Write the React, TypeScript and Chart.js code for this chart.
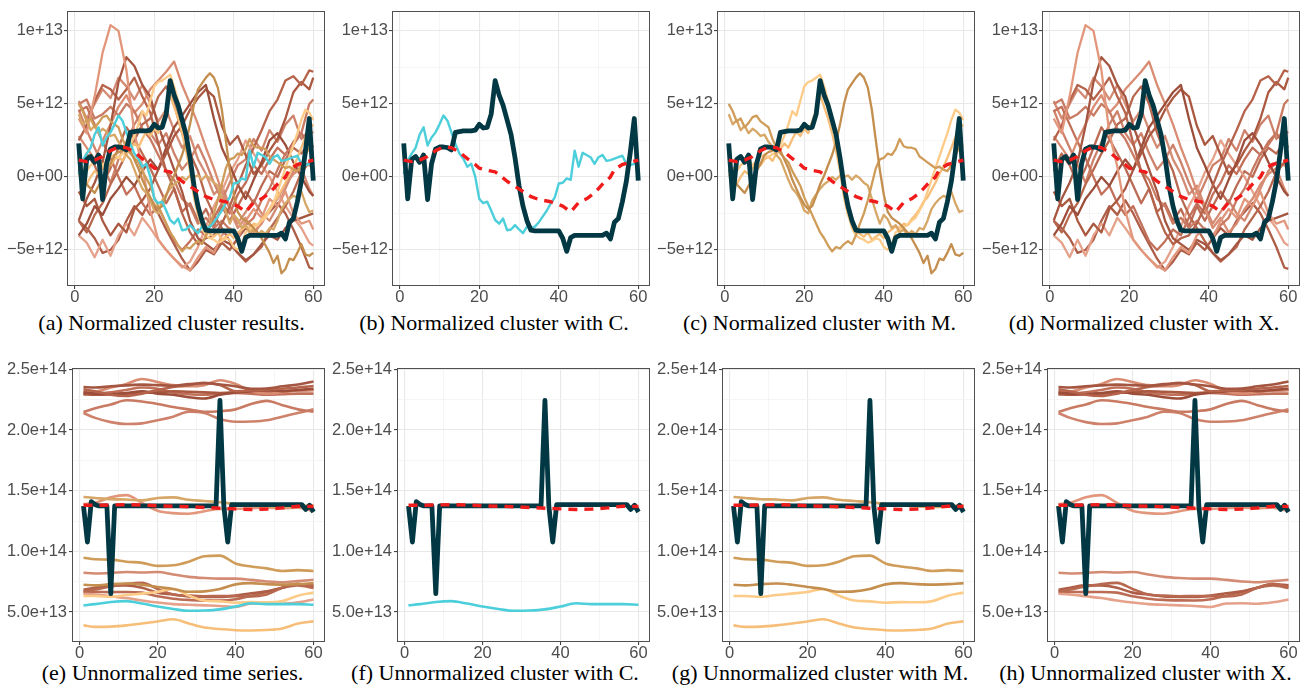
import React, { useEffect, useRef } from 'react';
import { Chart, registerables } from 'chart.js';
Chart.register(...registerables);

// ---------- axes / ticks ----------
const X_MIN = -1.95;
const X_MAX = 62.95;
const X_TICKS = [0, 20, 40, 60];
const X_LABELS = ['0', '20', '40', '60'];
const X_MINOR = [10, 30, 50];

const TOP_Y_MIN = -7.47; // units of 1e12
const TOP_Y_MAX = 11.37;
const TOP_Y_TICKS = [-5, 0, 5, 10];
const TOP_Y_LABELS = ['\u22125e+12', '0e+00', '5e+12', '1e+13'];
const TOP_Y_MINOR = [-2.5, 2.5, 7.5];

const BOT_Y_MIN = 0.253; // units of 1e14
const BOT_Y_MAX = 2.511;
const BOT_Y_TICKS = [0.5, 1.0, 1.5, 2.0, 2.5];
const BOT_Y_LABELS = ['5.0e+13', '1.0e+14', '1.5e+14', '2.0e+14', '2.5e+14'];
const BOT_Y_MINOR = [0.75, 1.25, 1.75, 2.25];

const TOP_CAPTIONS = [
  '(a) Normalized cluster results.',
  '(b) Normalized cluster with C.',
  '(c) Normalized cluster with M.',
  '(d) Normalized cluster with X.',
];
const BOT_CAPTIONS = [
  '(e) Unnormalized time series.',
  '(f) Unnormalized cluster with C.',
  '(g) Unnormalized cluster with M.',
  '(h) Unnormalized cluster with X.',
];

// ---------- x positions ----------
const FX = Array.from({ length: 60 }, (_, i) => i + 1);
const NX = [1, 3, 5, 7, 9, 11, 13, 15, 17, 19, 21, 23, 25, 27, 29, 31, 33, 35, 37, 39, 41, 43, 45, 47, 49, 51, 53, 55, 57, 59, 60];
const MEAN_X = [1, 3, 5, 7, 9, 11, 13, 15, 17, 19, 20, 22, 24, 25, 27, 29, 31, 33, 35, 37, 38, 39, 41, 43, 45, 47, 49, 50, 51, 53, 54, 56, 58, 60];
const BX = [1, 4, 8, 12, 16, 20, 24, 28, 32, 36, 40, 44, 48, 52, 56, 60];

// ---------- normalized (x 1e12) ----------
const DARK_TOP = [2.3, -1.5, 1.2, 1.4, 1.0, 1.5, -1.55, 0.9, 1.9, 2.05,
  2.05, 2.0, 1.85, 3.05, 3.1, 3.15, 3.15, 3.15, 3.2, 3.6,
  3.35, 3.4, 4.3, 6.6, 5.6, 4.9, 3.9, 2.9, 1.3, -0.6,
  -2.0, -3.0, -3.65, -3.7, -3.7, -3.7, -3.7, -3.7, -3.7, -3.7,
  -4.2, -5.1, -4.15, -4.0, -4.0, -4.0, -4.0, -4.0, -4.0, -4.0,
  -4.0, -3.85, -4.25, -3.1, -2.85, -1.7, -0.3, 1.7, 4.0, -0.25];
const MEAN_TOP = [1.15, 1.05, 1.15, 1.4, 1.8, 2.05, 2.0, 1.7, 1.25, 0.85,
  0.6, 0.45, 0.35, 0.15, -0.3, -0.65, -1.0, -1.35, -1.55, -1.65,
  -1.7, -1.8, -2.0, -2.4, -1.75, -1.5, -1.1, -0.8, -0.5, 0.0,
  0.5, 0.85, 1.0, 1.15];
const CYAN_TOP = [0.2, 1.1, 1.6, 2.0, 2.9, 3.4, 2.15, 2.7, 3.05, 3.6,
  4.2, 3.85, 3.05, 2.25, 1.6, 1.25, 0.7, 0.9, 0.0, -1.5,
  -1.8, -1.7, -2.3, -2.95, -3.2, -2.85, -3.65, -3.6, -3.3, -3.6,
  -3.85, -3.4, -3.5, -3.4, -3.1, -2.7, -2.3, -1.8, -1.4, -0.45,
  -0.4, -0.1, -0.2, 1.8, 0.7, 1.65, 1.5, 1.35, 0.9, 1.35,
  1.5, 1.1, 1.15, 1.25, 1.35, 1.45, 0.9, 0.8, 0.9, 1.0];

const M1_TOP = [0.5, -0.2, -0.5, -0.8, -1.1, -0.6, -0.2, 0.4, 0.9, 1.5,
  1.7, 1.8, 2.0, 1.8, 1.2, 0.6, -0.2, -0.8, -1.4, -1.9,
  -2.2, -2.0, -1.3, -0.5, 0.1, 0.8, 1.5, 2.4, 3.6, 5.0,
  6.0, 6.4, 6.8, 7.1, 6.8, 6.1, 4.6, 2.5, 0.5, -1.2,
  -2.4, -2.8, -3.0, -3.2, -3.5, -3.8, -4.2, -4.7, -5.2, -5.9,
  -5.4, -6.6, -6.3, -5.6, -5.7, -5.2, -4.6, -5.3, -5.4, -5.2];
const M2_TOP = [5.0, 4.5, 3.8, 4.0, 3.4, 3.7, 4.1, 4.2, 3.8, 3.6,
  3.4, 2.6, 2.0, 1.6, 1.3, 1.0, 0.4, -0.1, -0.6, -1.4,
  -2.0, -2.6, -3.2, -3.8, -4.2, -4.7, -5.1, -4.8, -4.9, -4.6,
  -4.4, -4.6, -4.0, -3.2, -2.5, -1.6, -0.5, 0.6, 1.2, 1.3,
  1.6, 1.5, 1.9, 2.6, 2.1, 2.0, 2.0, 1.9, 1.4, 1.2,
  1.0, 0.8, 0.6, 0.7, 0.5, 0.4, 0.8, 1.5, 2.0, 2.2];
const M3_TOP = [4.3, 3.6, 3.9, 3.2, 3.5, 3.0, 3.3, 3.1, 2.8, 2.9,
  2.4, 2.1, 1.5, 1.2, 0.5, -0.2, -0.8, -1.1, -1.6, -2.3,
  -2.5, -1.6, -1.2, -0.8, -0.5, -0.3, 0.0, -0.2, 0.1, 0.0,
  0.1, -0.2, 0.1, -0.1, -0.4, -0.6, -1.5, -2.4, -3.2, -2.6,
  -2.9, -3.5, -3.3, -3.8, -3.6, -4.0, -3.7, -3.9, -3.5, -3.6,
  -3.0, -2.2, -1.8, -1.5, -1.3, -1.4, -1.0, -1.8, -2.4, -2.3];
const M4_TOP = [0.9, 0.6, 0.4, 0.8, 1.0, 1.2, 0.8, 1.1, 1.4, 1.5,
  1.3, 1.6, 1.5, 2.2, 2.8, 3.6, 4.5, 4.2, 5.2, 6.2,
  6.5, 6.6, 6.8, 7.0, 6.2, 5.2, 4.0, 2.6, 1.0, -1.0,
  -2.5, -3.5, -4.0, -4.2, -4.3, -4.5, -4.4, -4.2, -4.3, -4.8,
  -5.0, -4.6, -3.8, -3.6, -3.4, -3.3, -3.0, -2.8, -2.3, -1.8,
  -1.0, -0.2, 0.6, 1.4, 2.2, 3.0, 3.9, 4.6, 4.4, 3.9];
const M5_TOP = [0.2, -0.3, -0.5, 0.0, 0.4, 0.2, 0.6, 1.0, 0.8, 1.2,
  1.4, 1.1, 1.6, 1.9, 2.3, 2.0, 2.6, 3.1, 2.8, 3.3,
  3.0, 3.8, 4.6, 5.6, 4.8, 4.0, 3.0, 1.8, 0.4, -1.4,
  -2.6, -3.3, -3.7, -3.9, -4.1, -3.8, -4.3, -4.1, -3.9, -4.2,
  -3.8, -3.6, -3.4, -3.5, -3.2, -3.3, -2.9, -2.6, -2.2, -1.7,
  -1.4, -0.9, -0.4, 0.2, 0.7, 1.3, 2.0, 2.7, 3.3, 3.6];
const M_TOP = [M1_TOP, M2_TOP, M3_TOP, M4_TOP, M5_TOP];

const X1_TOP = [4.0, 3.0, 5.5, 8.5, 10.4, 10.0, 7.3, 3.0, 0.7, -2.3, -4.3, -5.0, -5.6, -6.1, -6.4, -5.5, -4.8, -5.2, -4.0, -3.5, -4.2, -3.0, -2.2, -2.8, -1.5, -2.0, -1.0, -2.5, -3.2, -3.0, -3.6];
const X2_TOP = [-3.0, -1.5, -0.4, 1.0, 3.5, 6.5, 8.2, 7.6, 6.3, 5.5, 3.5, 2.0, 0.5, -1.0, -3.0, -4.2, -4.6, -5.0, -4.3, -4.6, -5.2, -5.7, -5.3, -4.6, -4.0, -4.3, -3.5, -3.0, -2.8, -2.6, -2.5];
const X3_TOP = [2.5, 3.5, 5.2, 6.3, 6.0, 5.3, 6.0, 6.8, 5.5, 4.4, 2.3, 0.4, -0.8, -2.5, -3.8, -4.6, -4.2, -4.0, -3.2, -2.0, -0.6, 0.8, 2.0, 3.2, 4.5, 5.3, 6.6, 6.9, 6.3, 7.3, 7.2];
const X4_TOP = [5.0, 5.3, 4.0, 4.3, 4.8, 4.2, 5.0, 4.5, 3.3, 2.6, 1.5, 0.4, -0.2, -1.5, -2.0, -3.2, -2.8, -3.5, -3.0, -3.6, -4.0, -3.3, -2.8, -1.6, -0.8, 0.5, 1.6, 2.2, 3.0, 5.0, 5.3];
const X5_TOP = [-4.0, -3.2, -2.0, -2.6, -1.5, -0.8, 0.0, -0.6, 0.4, 1.2, 0.5, 2.0, 3.4, 4.2, 5.0, 5.8, 6.3, 4.0, 2.0, 0.8, -0.5, -1.5, -0.2, 1.0, 2.5, 3.0, 2.2, 1.0, 0.0, -1.0, -1.3];
const X6_TOP = [2.8, 2.0, 1.2, 2.5, 3.6, 4.8, 5.6, 4.4, 5.0, 6.0, 6.6, 7.2, 7.9, 6.3, 5.0, 3.6, 2.0, 0.6, -1.0, -2.2, -3.5, -2.8, -3.8, -3.2, -2.2, -1.5, -0.5, 0.2, 0.6, -0.8, -1.3];
const X7_TOP = [-1.0, -2.0, -1.5, -3.0, -4.0, -3.2, -3.8, -2.2, -1.6, -0.8, 0.5, 1.6, 2.8, 3.5, 4.6, 5.4, 6.0, 5.5, 3.5, 2.2, 2.8, 1.5, 0.2, 0.8, 1.8, 2.6, 4.0, 5.8, 6.5, 6.0, 6.8];
const X8_TOP = [4.5, 4.8, 3.6, 2.4, 1.3, 0.0, -1.2, -0.6, -1.8, -2.6, -2.0, -3.2, -4.4, -5.0, -4.4, -3.6, -4.0, -2.8, -1.8, -2.5, -1.2, -0.4, 0.8, 0.2, 1.2, 2.0, 1.5, 2.4, 3.0, 2.2, 2.0];
const X9_TOP = [-3.0, -3.8, -2.6, -1.8, -0.5, 0.5, 1.6, 2.5, 3.6, 4.0, 5.5, 6.2, 5.0, 3.0, 1.6, 0.4, -1.4, -2.6, -3.5, -4.4, -5.2, -5.8, -5.3, -4.8, -3.6, -2.8, -2.0, -1.0, 0.3, 1.0, 0.8];
const X10_TOP = [-4.0, -4.5, -5.5, -4.3, -5.4, -4.0, -3.2, -4.0, -2.8, -3.5, -4.3, -5.0, -5.6, -6.2, -5.8, -4.8, -3.4, -2.0, -1.0, 0.3, 1.2, 2.5, 1.6, 0.8, 0.0, -1.0, -2.0, -2.8, -3.5, -4.5, -4.7];
const X11_TOP = [-3.0, -3.5, -4.2, -5.2, -5.0, -4.3, -3.0, -2.0, -2.6, -1.6, -2.5, -3.6, -4.6, -5.6, -6.4, -5.8, -5.0, -5.3, -4.5, -5.0, -4.2, -3.5, -4.0, -3.0, -2.4, -1.8, -2.5, -3.6, -4.8, -6.2, -6.3];
const X12_TOP = [4.6, 3.2, 2.0, 0.8, -0.4, 1.2, 2.4, 3.6, 4.5, 3.0, 2.2, 3.0, 1.6, 0.5, 1.2, 2.2, 1.0, -0.4, -1.6, -0.4, 0.8, 1.2, 2.6, 1.8, 3.2, 2.4, 3.6, 4.2, 2.6, 3.2, 3.0];
const X13_TOP = [0.4, 1.6, 0.8, -0.5, 0.6, 2.0, 3.4, 2.6, 1.6, 0.6, -0.6, -1.8, -0.8, -2.4, -1.8, -3.0, -2.2, -3.4, -2.0, -3.0, -2.0, -1.0, -1.8, -0.6, 0.4, 0.0, 1.2, 2.0, 1.6, 2.4, 2.0];
const X14_TOP = [5.2, 4.0, 5.0, 6.0, 5.4, 6.8, 6.2, 5.3, 6.3, 5.0, 3.8, 4.6, 3.2, 2.0, 2.8, 1.2, 0.2, -1.2, -0.6, -2.0, -3.2, -2.4, -1.6, -2.5, -3.0, -2.0, -0.8, 0.4, 1.0, 0.8, 0.6];
const X_TOP = [X1_TOP, X2_TOP, X3_TOP, X4_TOP, X5_TOP, X6_TOP, X7_TOP, X8_TOP, X9_TOP, X10_TOP, X11_TOP, X12_TOP, X13_TOP, X14_TOP];

// ---------- unnormalized (x 1e14) ----------
const DARK_BOT = [1.374, 1.077, 1.41, 1.385, 1.374, 1.374, 1.374, 0.651, 1.374, 1.374,
  1.374, 1.374, 1.374, 1.374, 1.374, 1.374, 1.374, 1.374, 1.374, 1.374,
  1.374, 1.374, 1.374, 1.374, 1.374, 1.374, 1.374, 1.374, 1.374, 1.374,
  1.374, 1.374, 1.374, 1.374, 1.374, 2.245, 1.374, 1.077, 1.385, 1.385,
  1.385, 1.385, 1.385, 1.385, 1.385, 1.385, 1.385, 1.385, 1.385, 1.385,
  1.385, 1.385, 1.385, 1.385, 1.385, 1.385, 1.385, 1.346, 1.38, 1.324];
const MEAN_BOT = [1.38, 1.38, 1.382, 1.385, 1.382, 1.375, 1.372, 1.368, 1.362, 1.355, 1.35, 1.345, 1.348, 1.358, 1.372, 1.37];
const CYAN_BOT = [0.555, 0.565, 0.583, 0.59, 0.57, 0.545, 0.525, 0.51, 0.512, 0.522, 0.545, 0.572, 0.565, 0.565, 0.565, 0.56];

const M1_BOT = [0.725, 0.72, 0.73, 0.735, 0.725, 0.706, 0.69, 0.667, 0.67, 0.69, 0.728, 0.738, 0.73, 0.726, 0.73, 0.738];
const M2_BOT = [0.948, 0.935, 0.932, 0.915, 0.905, 0.88, 0.885, 0.915, 0.96, 0.965, 0.9, 0.875, 0.86, 0.838, 0.845, 0.838];
const M3_BOT = [1.448, 1.44, 1.43, 1.427, 1.42, 1.44, 1.445, 1.425, 1.415, 1.405, 1.39, 1.38, 1.37, 1.365, 1.37, 1.38];
const M4_BOT = [0.632, 0.632, 0.625, 0.64, 0.652, 0.665, 0.69, 0.635, 0.595, 0.588, 0.577, 0.582, 0.58, 0.59, 0.635, 0.66];
const M5_BOT = [0.39, 0.378, 0.38, 0.39, 0.405, 0.422, 0.44, 0.405, 0.372, 0.36, 0.35, 0.348, 0.352, 0.365, 0.405, 0.423];
const M_BOT = [M1_BOT, M2_BOT, M3_BOT, M4_BOT, M5_BOT];

const X1_BOT = [1.39, 1.40, 1.445, 1.463, 1.40, 1.335, 1.315, 1.31, 1.33, 1.35, 1.35, 1.355, 1.36, 1.355, 1.36, 1.33];
const X2_BOT = [2.354, 2.35, 2.36, 2.368, 2.374, 2.37, 2.365, 2.378, 2.385, 2.375, 2.36, 2.34, 2.342, 2.36, 2.375, 2.40];
const X3_BOT = [2.335, 2.32, 2.29, 2.28, 2.30, 2.33, 2.355, 2.37, 2.39, 2.37, 2.32, 2.325, 2.335, 2.34, 2.35, 2.363];
const X4_BOT = [2.148, 2.18, 2.21, 2.245, 2.235, 2.215, 2.19, 2.17, 2.15, 2.155, 2.17, 2.215, 2.24, 2.205, 2.17, 2.15];
const X5_BOT = [2.31, 2.30, 2.295, 2.305, 2.32, 2.30, 2.29, 2.27, 2.26, 2.29, 2.31, 2.32, 2.335, 2.32, 2.33, 2.34];
const X6_BOT = [2.31, 2.315, 2.35, 2.38, 2.42, 2.395, 2.37, 2.36, 2.37, 2.41, 2.38, 2.32, 2.30, 2.31, 2.325, 2.33];
const X7_BOT = [2.294, 2.29, 2.295, 2.30, 2.305, 2.31, 2.32, 2.315, 2.31, 2.305, 2.31, 2.32, 2.315, 2.32, 2.325, 2.33];
const X8_BOT = [2.30, 2.30, 2.31, 2.33, 2.35, 2.34, 2.31, 2.295, 2.29, 2.30, 2.305, 2.30, 2.29, 2.295, 2.30, 2.30];
const X9_BOT = [0.67, 0.685, 0.71, 0.73, 0.74, 0.69, 0.645, 0.635, 0.63, 0.632, 0.63, 0.628, 0.645, 0.70, 0.73, 0.706];
const X10_BOT = [0.651, 0.645, 0.63, 0.615, 0.595, 0.578, 0.565, 0.56, 0.555, 0.55, 0.542, 0.57, 0.572, 0.568, 0.58, 0.604];
const X11_BOT = [0.684, 0.70, 0.72, 0.72, 0.70, 0.66, 0.645, 0.628, 0.625, 0.625, 0.635, 0.655, 0.67, 0.70, 0.73, 0.72];
const X12_BOT = [2.14, 2.10, 2.065, 2.05, 2.055, 2.08, 2.11, 2.15, 2.14, 2.09, 2.068, 2.07, 2.08, 2.11, 2.14, 2.17];
const X13_BOT = [0.665, 0.666, 0.664, 0.665, 0.66, 0.63, 0.61, 0.60, 0.596, 0.595, 0.605, 0.635, 0.665, 0.70, 0.72, 0.698];
const X14_BOT = [0.824, 0.818, 0.822, 0.83, 0.826, 0.83, 0.81, 0.79, 0.78, 0.775, 0.775, 0.765, 0.752, 0.745, 0.755, 0.766];
const X_BOT = [X1_BOT, X2_BOT, X3_BOT, X4_BOT, X5_BOT, X6_BOT, X7_BOT, X8_BOT, X9_BOT, X10_BOT, X11_BOT, X12_BOT, X13_BOT, X14_BOT];

// ---------- colours ----------
const DARK_COLOR = '#023843';
const RED_COLOR = '#F01C1C';
const CYAN_COLOR = '#4CCFDB';
const M_COLORS = ['#C48E4E', '#CF9C5A', '#D6A766', '#FDCB88', '#F6BE78'];
const X_COLORS = ['#E2977C', '#A55641', '#B5634B', '#C97A62', '#9C4E3A', '#D98C72', '#AA5840',
  '#C2705A', '#B7684F', '#E5A18A', '#AE5D47', '#CE826B', '#BC6C54', '#D48B74'];

const TICK_FONT = { family: "'Liberation Sans', Arial, sans-serif", size: 16.5 };
const TICK_COLOR = '#4D4D4D';

type Kind = 'all' | 'C' | 'M' | 'X';

function mkLine(xs: number[], ys: number[], color: string, width: number, extra: any = {}) {
  return {
    data: xs.map((x, i) => ({ x, y: ys[i] })),
    borderColor: color,
    backgroundColor: color,
    borderWidth: width,
    pointRadius: 0,
    fill: false,
    tension: 0,
    borderJoinStyle: 'round',
    ...extra,
  };
}

function buildTop(kind: Kind) {
  const out: any[] = [];
  out.push(mkLine(MEAN_X, MEAN_TOP, RED_COLOR, 3.4, { borderDash: [9, 7] }));
  out.push(mkLine(FX, DARK_TOP, DARK_COLOR, 4.8));
  if (kind === 'all' || kind === 'C') out.push(mkLine(FX, CYAN_TOP, CYAN_COLOR, 2.4));
  if (kind === 'all' || kind === 'M') M_TOP.forEach((ys, i) => out.push(mkLine(FX, ys, M_COLORS[i], 2.3)));
  if (kind === 'all' || kind === 'X') X_TOP.forEach((ys, i) => out.push(mkLine(NX, ys, X_COLORS[i], 2.3)));
  return out;
}

function buildBot(kind: Kind) {
  const smooth = { tension: 0.4, cubicInterpolationMode: 'monotone' };
  const out: any[] = [];
  out.push(mkLine(BX, MEAN_BOT, RED_COLOR, 3.4, { borderDash: [9, 7] }));
  out.push(mkLine(FX, DARK_BOT, DARK_COLOR, 4.8));
  if (kind === 'all' || kind === 'C') out.push(mkLine(BX, CYAN_BOT, CYAN_COLOR, 2.6, smooth));
  if (kind === 'all' || kind === 'M') M_BOT.forEach((ys, i) => out.push(mkLine(BX, ys, M_COLORS[i], 2.6, smooth)));
  if (kind === 'all' || kind === 'X') X_BOT.forEach((ys, i) => out.push(mkLine(BX, ys, X_COLORS[i], 2.6, smooth)));
  return out;
}

const borderPlugin = {
  id: 'panelBorder',
  afterDatasetsDraw(chart: any) {
    const { ctx, chartArea: a } = chart;
    ctx.save();
    ctx.strokeStyle = '#505050';
    ctx.lineWidth = 1;
    ctx.strokeRect(Math.round(a.left) + 0.5, Math.round(a.top) + 0.5, Math.round(a.right - a.left) - 1, Math.round(a.bottom - a.top) - 1);
    ctx.restore();
  },
};

function axisCfg(min: number, max: number, majors: number[], labels: string[], minors: number[], extra: any) {
  const all = [...majors, ...minors].sort((p, q) => p - q);
  const isMajor = (v: number) => majors.indexOf(v) >= 0;
  return {
    type: 'linear',
    min,
    max,
    afterBuildTicks: (s: any) => { s.ticks = all.map((v) => ({ value: v })); },
    grid: {
      color: (c: any) => (c.tick && isMajor(c.tick.value) ? '#E8E8E8' : '#F2F2F2'),
      lineWidth: (c: any) => (c.tick && isMajor(c.tick.value) ? 1.1 : 0.8),
      tickColor: (c: any) => (c.tick && isMajor(c.tick.value) ? '#444444' : 'rgba(0,0,0,0)'),
      tickLength: 3,
      drawTicks: true,
    },
    border: { display: false },
    ticks: {
      autoSkip: false,
      maxRotation: 0,
      color: TICK_COLOR,
      font: TICK_FONT,
      callback: (v: number) => { const i = majors.indexOf(v); return i >= 0 ? labels[i] : ''; },
      ...extra.ticks,
    },
    afterFit: extra.afterFit,
  };
}

interface PanelProps {
  left: number; top: number; width: number; height: number;
  padTop: number; padRight: number; yAxisW: number; xAxisH: number;
  row: 'top' | 'bot'; kind: Kind;
}

function Panel(p: PanelProps) {
  const ref = useRef<HTMLCanvasElement>(null);
  useEffect(() => {
    if (!ref.current) return;
    const isTop = p.row === 'top';
    const chart = new Chart(ref.current, {
      type: 'line',
      data: { datasets: isTop ? buildTop(p.kind) : buildBot(p.kind) } as any,
      options: {
        animation: false,
        responsive: false,
        maintainAspectRatio: false,
        events: [],
        layout: { padding: { left: 0, right: p.padRight, top: p.padTop, bottom: 0 } },
        plugins: { legend: { display: false }, tooltip: { enabled: false }, title: { display: false } },
        elements: { point: { radius: 0 } },
        scales: {
          x: axisCfg(X_MIN, X_MAX, X_TICKS, X_LABELS, X_MINOR, {
            ticks: { padding: -1.5 },
            afterFit: (s: any) => { s.height = p.xAxisH; },
          }),
          y: axisCfg(
            isTop ? TOP_Y_MIN : BOT_Y_MIN,
            isTop ? TOP_Y_MAX : BOT_Y_MAX,
            isTop ? TOP_Y_TICKS : BOT_Y_TICKS,
            isTop ? TOP_Y_LABELS : BOT_Y_LABELS,
            isTop ? TOP_Y_MINOR : BOT_Y_MINOR,
            {
              ticks: { padding: isTop ? 1 : 2 },
              afterFit: (s: any) => { s.width = p.yAxisW; },
            }
          ),
        },
      } as any,
      plugins: [borderPlugin],
    });
    return () => chart.destroy();
  }, []);
  return (
    <canvas
      ref={ref}
      width={p.width}
      height={p.height}
      style={{ position: 'absolute', left: p.left, top: p.top, width: p.width, height: p.height }}
    />
  );
}

const TOP_CAP_CENTERS = [171.5, 494, 819.5, 1144];
const BOT_CAP_CENTERS = [172.5, 495, 820, 1145.5];
const CELL_LEFTS = [0, 325, 650, 975];
const KINDS: Kind[] = ['all', 'C', 'M', 'X'];

function Caption({ text, center, baseline }: { text: string; center: number; baseline: number }) {
  return (
    <div
      style={{
        position: 'absolute',
        left: center - 200,
        width: 400,
        top: baseline - 18.4,
        textAlign: 'center',
        fontFamily: "'Liberation Serif', 'Times New Roman', serif",
        fontSize: 22,
        lineHeight: '22px',
        color: '#000',
        whiteSpace: 'nowrap',
      }}
    >
      {text}
    </div>
  );
}

export default function App() {
  return (
    <div style={{ position: 'absolute', left: 0, top: 0, width: 1302, height: 691, background: '#fff', overflow: 'hidden' }}>
      {CELL_LEFTS.map((l, i) => (
        <Panel key={'t' + i} left={l} top={0} width={327} height={310} padTop={10} padRight={2}
          yAxisW={67} xAxisH={24} row="top" kind={KINDS[i]} />
      ))}
      {CELL_LEFTS.map((l, i) => (
        <Panel key={'b' + i} left={l} top={345} width={327} height={315} padTop={23} padRight={2}
          yAxisW={72} xAxisH={18} row="bot" kind={KINDS[i]} />
      ))}
      {TOP_CAPTIONS.map((t, i) => (
        <Caption key={'ct' + i} text={t} center={TOP_CAP_CENTERS[i]} baseline={330} />
      ))}
      {BOT_CAPTIONS.map((t, i) => (
        <Caption key={'cb' + i} text={t} center={BOT_CAP_CENTERS[i]} baseline={680} />
      ))}
    </div>
  );
}
